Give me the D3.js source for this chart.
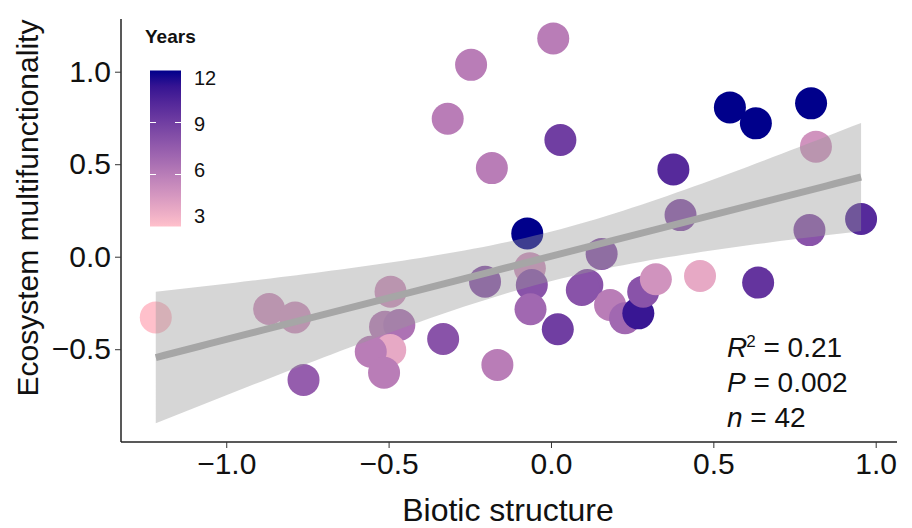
<!DOCTYPE html>
<html>
<head>
<meta charset="utf-8">
<script src="https://cdn.jsdelivr.net/npm/d3@7"></script>
<style>
  body { margin: 0; background: white; }
  text { font-family: "Liberation Sans", Arial, sans-serif; }
</style>
</head>
<body>
<div id="chart"></div>
<script>
// Biotic structure (x), ecosystem multifunctionality (y), years (colour)
const bioticX = [
  -0.246, 0.007, -0.318, 0.029, -0.182, 0.551, 0.631, 0.801, 0.816, 0.377,
  0.399, 0.796, 0.955, -0.073, -0.065, 0.156, -0.203, -0.059, -0.063, 0.021,
  -0.165, 0.095, 0.112, 0.182, 0.228, 0.269, 0.284, 0.323, 0.459, 0.638,
  -1.217, -0.868, -0.788, -0.762, -0.494, -0.511, -0.467, -0.495, -0.555, -0.514,
  -0.332, 0.100
];
const multiY = [
  1.037, 1.180, 0.746, 0.631, 0.479, 0.807, 0.721, 0.829, 0.595, 0.472,
  0.225, 0.144, 0.204, 0.126, -0.063, 0.015, -0.135, -0.153, -0.284, -0.392,
  -0.585, -0.180, -0.153, -0.261, -0.333, -0.306, -0.189, -0.122, -0.104, -0.140,
  -0.328, -0.283, -0.328, -0.666, -0.189, -0.378, -0.369, -0.504, -0.514, -0.627,
  -0.445, -0.170
];
const years = [
  6, 6, 6, 9, 6, 12, 12, 12, 5, 10,
  8, 8, 10, 12, 5, 8, 8, 8, 7, 9,
  6, 8, 8, 6, 7, 11, 8, 5, 4, 9.5,
  3, 5, 5, 7.5, 5, 6, 6.5, 4, 6, 6,
  8, 8
];
const xTicks = [-1.0, -0.5, 0.0, 0.5, 1.0];
const yTicks = [-0.5, 0.0, 0.5, 1.0];
const legendTicks = [3, 6, 9, 12];
const statLines = [["R", "2", " = 0.21"], ["P", "", " = 0.002"], ["n", "", " = 42"]];

const width = 912, height = 528;
const svg = d3.select("#chart").append("svg")
  .attr("width", width).attr("height", height)
  .style("background", "white");

const x = d3.scaleLinear().domain([-1.3241, 1.0656]).range([121, 897]);
const y = d3.scaleLinear().domain([-1.0016, 1.2849]).range([442, 19]);
const color = d3.scaleLinear().domain([3, 12])
  .range(["#FFC0CB", "#00008B"]).interpolate(d3.interpolateLab);

const points = bioticX.map((d, i) => ({ x: d, y: multiY[i], yr: years[i] }));

// points
svg.append("g").selectAll("circle")
  .data(points)
  .join("circle")
  .attr("cx", d => x(d.x))
  .attr("cy", d => y(d.y))
  .attr("r", 16)
  .style("fill", d => color(d.yr));

// linear fit + 95% confidence band (like geom_smooth(method = "lm"))
const n = points.length;
const mx = d3.mean(points, d => d.x), my = d3.mean(points, d => d.y);
const sxx = d3.sum(points, d => (d.x - mx) ** 2);
const sxy = d3.sum(points, d => (d.x - mx) * (d.y - my));
const slope = sxy / sxx, icpt = my - slope * mx;
const sse = d3.sum(points, d => (d.y - icpt - slope * d.x) ** 2);
const se = Math.sqrt(sse / (n - 2));
const tq = 2.021;
const [x0, x1] = d3.extent(points, d => d.x);
const band = d3.range(81).map(i => {
  const xv = x0 + (x1 - x0) * i / 80;
  const fit = icpt + slope * xv;
  const hw = tq * se * Math.sqrt(1 / n + (xv - mx) ** 2 / sxx);
  return { x: xv, fit: fit, lo: fit - hw, hi: fit + hw };
});

svg.append("path")
  .datum(band)
  .attr("d", d3.area().x(d => x(d.x)).y0(d => y(d.lo)).y1(d => y(d.hi)))
  .style("fill", "#999999").style("fill-opacity", 0.4);

svg.append("path")
  .datum(band)
  .attr("d", d3.line().x(d => x(d.x)).y(d => y(d.fit)))
  .style("fill", "none").style("stroke", "#A6A6A6").style("stroke-width", 7);

// axes
const xAxis = svg.append("g").attr("transform", "translate(0,442)")
  .call(d3.axisBottom(x).tickValues(xTicks).tickSizeOuter(0).tickSize(6).tickPadding(5)
    .tickFormat(d => d3.format(".1f")(d).replace("-", "\u2212")));
xAxis.select(".domain").attr("d", "M121,0H897").style("stroke", "#222").style("stroke-width", 1.5);
xAxis.selectAll(".tick line").style("stroke", "#333");
xAxis.selectAll("text").style("font-size", "30px").style("fill", "#111");

const yAxis = svg.append("g").attr("transform", "translate(121,0)")
  .call(d3.axisLeft(y).tickValues(yTicks).tickSizeOuter(0).tickSize(6).tickPadding(4)
    .tickFormat(d => d3.format(".1f")(d).replace("-", "\u2212")));
yAxis.select(".domain").attr("d", "M0,19V442").style("stroke", "#222").style("stroke-width", 1.5);
yAxis.selectAll(".tick line").style("stroke", "#333");
yAxis.selectAll("text").style("font-size", "30px").style("fill", "#111");

// axis titles
svg.append("text")
  .attr("x", 508).attr("y", 521)
  .attr("text-anchor", "middle")
  .style("font-size", "32px").style("fill", "#111")
  .text("Biotic structure");

svg.append("text")
  .attr("transform", "translate(38,208) rotate(-90)")
  .attr("text-anchor", "middle")
  .style("font-size", "30px").style("fill", "#111")
  .text("Ecosystem multifunctionality");

// colour legend
const defs = svg.append("defs");
const grad = defs.append("linearGradient").attr("id", "yearsGrad")
  .attr("x1", 0).attr("y1", 1).attr("x2", 0).attr("y2", 0);
d3.range(11).forEach(i => {
  const v = 3 + 9 * i / 10;
  grad.append("stop").attr("offset", i / 10).attr("stop-color", color(v));
});
const ly = d3.scaleLinear().domain([3, 12]).range([226.5, 70.5]);
const lyLabel = d3.scaleLinear().domain([3, 12]).range([216, 78]);

svg.append("text")
  .attr("x", 145).attr("y", 43)
  .style("font-size", "19px").style("font-weight", "bold").style("fill", "#111")
  .text("Years");

svg.append("rect")
  .attr("x", 150).attr("y", ly(12))
  .attr("width", 31).attr("height", ly(3) - ly(12))
  .style("fill", "url(#yearsGrad)");

svg.append("g").selectAll("line")
  .data([6, 9])
  .join("line")
  .attr("x1", 150).attr("x2", 156)
  .attr("y1", d => ly(d)).attr("y2", d => ly(d))
  .style("stroke", "white").style("stroke-width", 1);
svg.append("g").selectAll("line")
  .data([6, 9])
  .join("line")
  .attr("x1", 175).attr("x2", 181)
  .attr("y1", d => ly(d)).attr("y2", d => ly(d))
  .style("stroke", "white").style("stroke-width", 1);

svg.append("g").selectAll("text")
  .data(legendTicks)
  .join("text")
  .attr("x", 194).attr("y", d => lyLabel(d))
  .attr("dy", "0.35em")
  .style("font-size", "20px").style("fill", "#111")
  .text(d => d);

// statistics
const stats = svg.append("g");
statLines.forEach((s, i) => {
  const t = stats.append("text")
    .attr("x", 727).attr("y", 357 + i * 35)
    .style("font-size", "28px").style("fill", "#111");
  t.append("tspan").style("font-style", "italic").text(s[0]);
  if (s[1]) t.append("tspan").attr("dy", -10).attr("dx", -1).style("font-size", "17px").text(s[1]);
  t.append("tspan").attr("dy", s[1] ? 10 : 0).text(s[2]);
});
</script>
</body>
</html>
